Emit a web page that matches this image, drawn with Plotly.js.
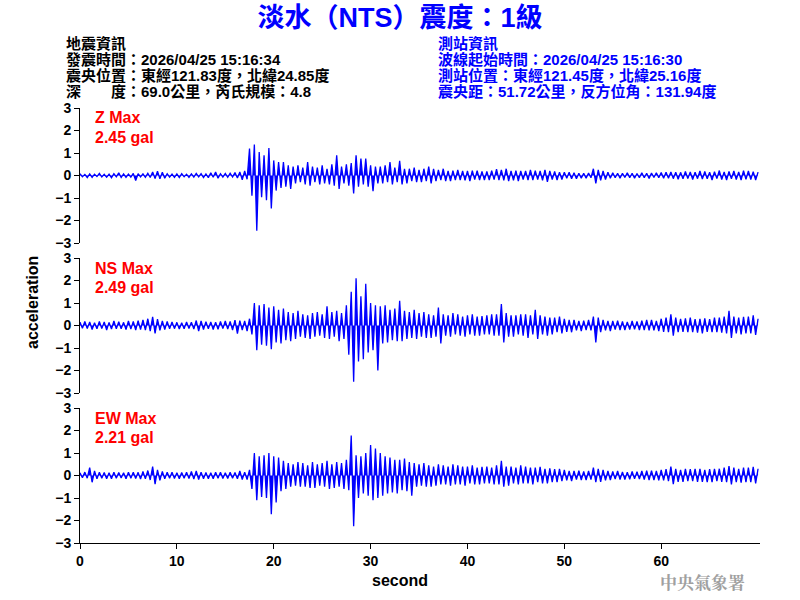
<!DOCTYPE html>
<html>
<head>
<meta charset="utf-8">
<script src="https://cdn.plot.ly/plotly-3.0.1.min.js"></script>
<style>html,body{margin:0;padding:0;background:#fff;}#chart{width:800px;height:600px;}</style>
</head>
<body>
<div id="chart"></div>
<script>
// sample interval (s)
const sampleStep = 0.25;
const timeStart = 0;

// Z component acceleration (gal), one value per 0.25 s
const zValues = [
0.08,-0.06,0.05,-0.09, 0.07,-0.08,0.06,-0.05, 0.09,-0.07,0.05,-0.08, 0.06,-0.1,0.08,-0.06,
0.12,-0.09,0.07,-0.08, 0.06,-0.07,0.09,-0.22, 0.08,-0.06,0.07,-0.08, 0.1,-0.09,0.16,-0.14,
0.19,-0.15,0.14,-0.12, 0.08,-0.07,0.06,-0.08, 0.07,-0.09,0.08,-0.06, 0.06,-0.08,0.07,-0.07,
0.09,-0.06,0.08,-0.09, 0.07,-0.1,0.12,-0.08, 0.16,-0.12,0.08,-0.07, 0.09,-0.08,0.1,-0.07,
0.13,-0.11,0.16,-0.19, 0.2,-0.17,1.2,-0.9, 1.38,-2.45,1.04,-0.97, 0.9,-1.1,1.22,-1.47,
0.67,-0.67,0.6,-0.55, 0.6,-0.5,0.45,-0.6, 0.4,-0.35,0.45,-0.3, 0.35,-0.4,0.6,-0.45,
0.4,-0.3,0.35,-0.4, 0.45,-0.35,0.3,-0.4, 0.5,-0.45,0.9,-0.6, 0.4,-0.35,0.5,-0.45,
0.55,-0.8,0.9,-0.5, 0.75,-0.4,0.75,-0.5, 0.45,-0.7,0.4,-0.35, 0.4,-0.35,0.45,-0.3,
0.6,-0.4,0.35,-0.3, 0.65,-0.4,0.3,-0.35, 0.3,-0.25,0.35,-0.3, 0.25,-0.3,0.3,-0.25,
0.4,-0.35,0.3,-0.25, 0.25,-0.2,0.3,-0.25, 0.2,-0.25,0.22,-0.2, 0.25,-0.2,0.2,-0.22,
0.2,-0.25,0.22,-0.18, 0.22,-0.2,0.18,-0.2, 0.18,-0.2,0.22,-0.18, 0.28,-0.2,0.25,-0.22,
0.3,-0.25,0.2,-0.22, 0.22,-0.25,0.2,-0.18, 0.2,-0.2,0.25,-0.2, 0.22,-0.18,0.2,-0.22,
0.25,-0.28,0.2,-0.18, 0.18,-0.2,0.15,-0.18, 0.15,-0.12,0.14,-0.15, 0.12,-0.14,0.1,-0.12,
0.1,-0.12,0.11,-0.1, 0.3,-0.35,0.25,-0.22, 0.2,-0.18,0.15,-0.12, 0.12,-0.1,0.1,-0.12,
0.1,-0.09,0.12,-0.1, 0.1,-0.12,0.09,-0.1, 0.12,-0.1,0.1,-0.13, 0.11,-0.09,0.12,-0.1,
0.13,-0.12,0.15,-0.12, 0.16,-0.14,0.15,-0.17, 0.14,-0.15,0.18,-0.14, 0.16,-0.18,0.15,-0.14,
0.2,-0.16,0.18,-0.15, 0.15,-0.2,0.17,-0.14, 0.22,-0.18,0.16,-0.2, 0.18,-0.15,0.2,-0.18,
0.16,-0.2,0.22,-0.17, 0.2,-0.18,0.17,-0.2, 0.15
];

// NS component acceleration (gal)
const nsValues = [
0.15,-0.12,0.18,-0.14, 0.16,-0.18,0.12,-0.15, 0.18,-0.14,0.16,-0.2, 0.14,-0.16,0.2,-0.15,
0.17,-0.15,0.14,-0.18, 0.2,-0.16,0.18,-0.2, 0.22,-0.18,0.25,-0.2, 0.3,-0.25,0.38,-0.35,
0.28,-0.22,0.2,-0.18, 0.18,-0.15,0.16,-0.14, 0.14,-0.16,0.12,-0.15, 0.16,-0.13,0.15,-0.16,
0.22,-0.25,0.2,-0.18, 0.17,-0.15,0.16,-0.18, 0.15,-0.17,0.18,-0.14, 0.2,-0.16,0.18,-0.2,
0.24,-0.36,0.22,-0.2, 0.2,-0.25,0.3,-0.4, 1.0,-1.1,0.9,-0.85, 0.95,-0.9,0.8,-1.05,
0.85,-0.75,0.7,-0.8, 0.75,-0.65,0.6,-0.7, 0.55,-0.6,0.65,-0.5, 0.5,-0.55,0.45,-0.6,
0.55,-0.5,0.6,-0.45, 0.5,-0.55,0.85,-0.6, 0.6,-0.5,0.65,-0.7, 0.55,-0.6,0.9,-1.3,
1.5,-2.5,2.1,-1.6, 1.3,-1.5,1.85,-1.2, 1.0,-1.1,0.9,-2.0, 0.85,-0.8,0.9,-0.75,
0.7,-0.65,0.75,-0.7, 1.1,-0.7,0.65,-0.6, 0.6,-0.55,0.7,-0.6, 0.55,-0.5,0.6,-0.55,
0.5,-0.55,0.45,-0.5, 0.8,-0.8,0.5,-0.45, 0.45,-0.5,0.55,-0.4, 0.5,-0.45,0.4,-0.5,
0.45,-0.4,0.5,-0.45, 0.4,-0.45,0.42,-0.4, 0.45,-0.4,0.5,-0.45, 0.5,-0.45,0.95,-0.75,
0.55,-0.5,0.45,-0.5, 0.45,-0.4,0.5,-0.45, 0.5,-0.55,0.45,-0.4, 0.7,-0.6,0.45,-0.4,
0.4,-0.45,0.35,-0.4, 0.35,-0.3,0.4,-0.35, 0.3,-0.28,0.25,-0.3, 0.25,-0.22,0.2,-0.25,
0.22,-0.2,0.25,-0.22, 0.4,-0.75,0.35,-0.3, 0.25,-0.22,0.2,-0.25, 0.2,-0.18,0.22,-0.2,
0.18,-0.2,0.16,-0.18, 0.2,-0.17,0.18,-0.2, 0.22,-0.2,0.25,-0.22, 0.25,-0.22,0.2,-0.25,
0.3,-0.28,0.35,-0.3, 0.5,-0.45,0.35,-0.3, 0.3,-0.28,0.32,-0.3, 0.35,-0.3,0.28,-0.32,
0.3,-0.35,0.32,-0.28, 0.28,-0.3,0.35,-0.3, 0.35,-0.32,0.4,-0.35, 0.65,-0.55,0.4,-0.35,
0.35,-0.4,0.38,-0.35, 0.4,-0.35,0.45,-0.42, 0.3
];

// EW component acceleration (gal)
const ewValues = [
0.12,-0.1,0.15,-0.12, 0.35,-0.3,0.2,-0.15, 0.14,-0.12,0.13,-0.15, 0.12,-0.14,0.15,-0.12,
0.13,-0.11,0.12,-0.14, 0.15,-0.12,0.14,-0.13, 0.14,-0.16,0.18,-0.15, 0.22,-0.2,0.4,-0.38,
0.25,-0.22,0.18,-0.15, 0.14,-0.12,0.15,-0.13, 0.12,-0.14,0.13,-0.12, 0.15,-0.13,0.18,-0.16,
0.2,-0.18,0.15,-0.14, 0.13,-0.15,0.12,-0.14, 0.14,-0.12,0.15,-0.13, 0.12,-0.13,0.14,-0.12,
0.13,-0.15,0.2,-0.18, 0.15,-0.18,0.25,-0.6, 1.0,-1.1,0.85,-0.95, 0.9,-1.0,1.0,-1.72,
0.85,-1.2,0.8,-0.7, 0.65,-0.6,0.55,-0.5, 0.5,-0.45,0.6,-0.5, 0.55,-0.5,0.45,-0.55,
0.6,-0.55,0.5,-0.45, 0.55,-0.5,0.65,-0.6, 0.5,-0.55,0.6,-0.5, 0.55,-0.6,0.7,-0.65,
1.78,-2.25,0.9,-1.0, 0.85,-0.8,1.0,-0.9, 1.35,-1.1,1.2,-1.0, 1.0,-0.9,0.85,-0.8,
0.8,-0.75,0.7,-0.8, 0.7,-0.65,0.75,-0.7, 0.6,-0.9,0.55,-0.5, 0.5,-0.45,0.55,-0.5,
0.45,-0.5,0.4,-0.45, 0.5,-0.4,0.45,-0.4, 0.4,-0.45,0.5,-0.4, 0.45,-0.4,0.4,-0.45,
0.4,-0.35,0.45,-0.4, 0.35,-0.4,0.38,-0.35, 0.4,-0.35,0.35,-0.4, 0.45,-0.4,0.65,-0.5,
0.4,-0.45,0.4,-0.35, 0.35,-0.4,0.45,-0.35, 0.4,-0.35,0.35,-0.4, 0.35,-0.3,0.38,-0.35,
0.3,-0.35,0.32,-0.3, 0.28,-0.3,0.3,-0.25, 0.25,-0.22,0.2,-0.25, 0.2,-0.18,0.22,-0.2,
0.18,-0.2,0.2,-0.18, 0.35,-0.3,0.3,-0.28, 0.25,-0.22,0.2,-0.2, 0.18,-0.16,0.2,-0.18,
0.16,-0.18,0.15,-0.17, 0.18,-0.15,0.17,-0.16, 0.2,-0.18,0.22,-0.2, 0.22,-0.2,0.2,-0.22,
0.25,-0.22,0.28,-0.25, 0.4,-0.38,0.3,-0.28, 0.25,-0.28,0.3,-0.25, 0.28,-0.25,0.3,-0.28,
0.3,-0.28,0.25,-0.3, 0.28,-0.3,0.3,-0.25, 0.3,-0.28,0.35,-0.3, 0.42,-0.4,0.35,-0.3,
0.3,-0.32,0.35,-0.3, 0.35,-0.3,0.38,-0.35, 0.3
];

const componentNames = ["Z", "NS", "EW"];
const maxValues = ["2.45", "2.49", "2.21"];
const yTickVals = [-3, -2, -1, 0, 1, 2, 3];
const xTickVals = [0, 10, 20, 30, 40, 50, 60];

const titleText = "淡水（NTS）震度：1級";
const quakeInfo = [
  "地震資訊",
  "發震時間：2026/04/25 15:16:34",
  "震央位置：東經121.83度，北緯24.85度",
  "深　　度：69.0公里，芮氏規模：4.8"
];
const stationInfo = [
  "測站資訊",
  "波線起始時間：2026/04/25 15:16:30",
  "測站位置：東經121.45度，北緯25.16度",
  "震央距：51.72公里，反方位角：131.94度"
];

const FONT = "Liberation Sans, Arial, Noto Sans CJK TC, sans-serif";
const BLUE = "#0000ff";

// pixel geometry helpers (plot area 80..760 x 108..543)
const L = 80, R = 40, T = 108, B = 57, W = 800 - L - R, H = 600 - T - B;
const px = x => (x - L) / W;
const py = y => (600 - B - y) / H;

const series = [zValues, nsValues, ewValues];
const traces = series.map((v, i) => ({
  type: "scatter", mode: "lines",
  y: v, x0: timeStart, dx: sampleStep,
  xaxis: "x", yaxis: i === 0 ? "y3" : (i === 1 ? "y2" : "y"),
  line: {color: BLUE, width: 1.3},
  fill: "tozeroy", fillcolor: BLUE,
  hoverinfo: "skip", showlegend: false
}));

const panelH = 135 / H, gap = 15 / H;
const yBase = {
  range: [-3, 3], tickvals: yTickVals, ticks: "outside", ticklen: 5, tickwidth: 1,
  tickcolor: "#000", showline: true, linecolor: "#000", linewidth: 1,
  showgrid: false, zeroline: false,
  tickfont: {family: FONT, size: 14, color: "#000", weight: "bold"},
  anchor: "x"
};

const annotations = [];
quakeInfo.forEach((t, i) => annotations.push({
  xref: "paper", yref: "paper", x: px(64), y: py(43 + 16 * i), xanchor: "left", yanchor: "middle",
  text: "<b>" + t + "</b>", showarrow: false, font: {family: FONT, size: 15, color: "#000"}
}));
stationInfo.forEach((t, i) => annotations.push({
  xref: "paper", yref: "paper", x: px(436), y: py(43 + 16 * i), xanchor: "left", yanchor: "middle",
  text: "<b>" + t + "</b>", showarrow: false, font: {family: FONT, size: 15, color: BLUE}
}));
[118, 268, 418].forEach((yy, i) => {
  annotations.push({
    xref: "paper", yref: "paper", x: px(93), y: py(yy), xanchor: "left", yanchor: "middle",
    text: "<b>" + componentNames[i] + " Max</b>", showarrow: false, font: {family: FONT, size: 16, color: "#ff0000"}
  });
  annotations.push({
    xref: "paper", yref: "paper", x: px(93), y: py(yy + 19), xanchor: "left", yanchor: "middle",
    text: "<b>" + maxValues[i] + " gal</b>", showarrow: false, font: {family: FONT, size: 16, color: "#ff0000"}
  });
});
annotations.push({
  xref: "paper", yref: "paper", x: px(32), y: py(303), xanchor: "center", yanchor: "middle",
  text: "<b>acceleration</b>", textangle: -90, showarrow: false, font: {family: FONT, size: 16, color: "#000"}
});
annotations.push({
  xref: "paper", yref: "paper", x: px(400), y: py(580), xanchor: "center", yanchor: "middle",
  text: "<b>second</b>", showarrow: false, font: {family: FONT, size: 16, color: "#000"}
});
annotations.push({
  xref: "paper", yref: "paper", x: px(702), y: py(581), xanchor: "center", yanchor: "middle",
  text: "<b>中央氣象署</b>", showarrow: false, font: {family: "Noto Serif CJK TC, Noto Sans CJK TC, serif", size: 17, color: "#a0a0a0"}
});

const layout = {
  width: 800, height: 600,
  margin: {l: L, r: R, t: T, b: B},
  paper_bgcolor: "#fff", plot_bgcolor: "#fff",
  title: {
    text: "<b>" + titleText + "</b>", x: 0.5, xref: "container", xanchor: "center",
    y: 1 - 18 / 600, yref: "container", yanchor: "middle",
    font: {family: FONT, size: 27, color: BLUE}
  },
  xaxis: {
    range: [0, 70.2], tickvals: xTickVals, ticks: "outside", ticklen: 5, tickwidth: 1, tickcolor: "#000",
    showline: true, linecolor: "#000", linewidth: 1, showgrid: false, zeroline: false,
    tickfont: {family: FONT, size: 14, color: "#000", weight: "bold"}, anchor: "y"
  },
  yaxis: Object.assign({}, yBase, {domain: [0, panelH]}),
  yaxis2: Object.assign({}, yBase, {domain: [panelH + gap, 2 * panelH + gap]}),
  yaxis3: Object.assign({}, yBase, {domain: [1 - panelH, 1]}),
  annotations: annotations
};

Plotly.newPlot("chart", traces, layout, {displayModeBar: false, staticPlot: true});
</script>
</body>
</html>
